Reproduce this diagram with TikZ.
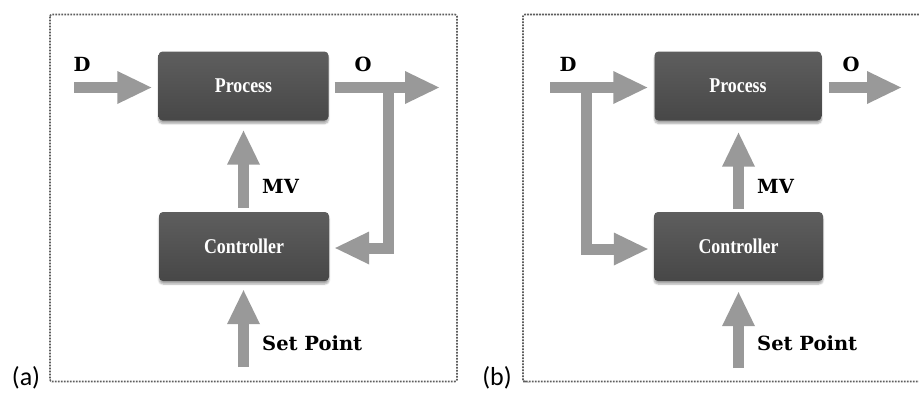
\documentclass[tikz,border=0pt]{standalone}
\usepackage{fontspec}
\usetikzlibrary{calc,shadows.blur}
\newfontfamily\labelfont{DejaVu Serif}
\newfontfamily\boxfont[FakeStretch=0.85]{Liberation Serif}
\newfontfamily\capfont{Carlito}
\definecolor{flowgray}{HTML}{999999}
\definecolor{boxtop}{HTML}{5E5E5E}
\definecolor{boxbottom}{HTML}{474747}
\definecolor{framegray}{HTML}{5E5E5E}
\tikzset{
  block/.style={rectangle, rounded corners=4pt, minimum width=170pt, minimum height=69pt,
    top color=boxtop, bottom color=boxbottom, draw=none,
    blur shadow={shadow xshift=0pt, shadow yshift=-3pt, shadow blur steps=6, shadow opacity=35},
    text=white, font=\boxfont\bfseries\fontsize{21}{23}\selectfont, inner sep=0pt},
  flow/.style={draw=flowgray, line width=11pt, line join=miter, line cap=butt},
  % wide triangular head, tip at the pic origin, pointing along +x
  head/.pic={\fill[flowgray] (0,0) -- (-34,-16.5) -- (-34,16.5) -- cycle;},
  sig/.style={font=\labelfont\bfseries\fontsize{19.5}{22}\selectfont, text=black, inner sep=0pt},
  frame/.style={draw=framegray, line width=1.6pt, dash pattern=on 1.8pt off 1.2pt},
  caption/.style={font=\capfont\fontsize{26}{28}\selectfont, inner sep=0pt},
}
\begin{document}
\begin{tikzpicture}[x=1pt, y=-1pt]
  \useasboundingbox (0,0) rectangle (919,392);

  % ---------- (a) feedback loop ----------
  \draw[frame, rounded corners=2pt] (50,14.5) rectangle (457,381.5);
  \node[caption] (capa) at (26,378) {(a)};

  \node[block] (proca) at (243.5,86) {Process};
  \node[block] (ctrla) at (244,246.5) {Controller};

  \coordinate (ina)  at (74,87.5);
  \coordinate (outa) at (439,87.5);
  \coordinate (taba) at (388.5,87.5);
  \coordinate (cora) at (388.5,248);
  \coordinate (spa)  at (243.5,367);
  \coordinate (tipDa)  at ($(proca.west |- ina)+(-7,0)$);
  \coordinate (tipFa)  at ($(ctrla.east |- cora)+(6,0)$);
  \coordinate (tipMVa) at ($(proca.south -| spa)+(0,10)$);
  \coordinate (tipSPa) at ($(ctrla.south -| spa)+(0,9)$);

  % input D
  \draw[flow] (ina) -- ($(tipDa)+(-33,0)$);
  \pic at (tipDa) {head};
  % output O
  \draw[flow] ($(proca.east |- outa)+(6,0)$) -- ($(outa)+(-33,0)$);
  \pic at (outa) {head};
  % feedback from O to the controller
  \draw[flow] (taba) -- (cora) -- ($(tipFa)+(33,0)$);
  \pic[rotate=180] at (tipFa) {head};
  % manipulated variable
  \draw[flow] ($(ctrla.north -| spa)+(0,-4)$) -- ($(tipMVa)+(0,33)$);
  \pic[rotate=90] at (tipMVa) {head};
  % set point
  \draw[flow] (spa) -- ($(tipSPa)+(0,33)$);
  \pic[rotate=90] at (tipSPa) {head};

  \node[sig] (da)  at (82,64)  {D};
  \node[sig] (oa)  at (363,64) {O};
  \node[sig, anchor=west] (mva) at (262,186) {MV};
  \node[sig, anchor=west] (setpa) at (262,343) {Set Point};

  % ---------- (b) feedforward ----------
  \draw[frame] (919,14.5) -- (525,14.5) [rounded corners=2pt] -- (523,14.5) -- (523,381.5) -- (525,381.5) [sharp corners] -- (919,381.5);
  \node[caption] (capb) at (497,378) {(b)};

  \node[block, minimum width=167pt] (procb) at (738,86) {Process};
  \node[block, minimum width=169pt] (ctrlb) at (738.5,246.5) {Controller};

  \coordinate (inb)  at (550,87.5);
  \coordinate (outb) at (901,87.5);
  \coordinate (tabb) at (586.5,87.5);
  \coordinate (corb) at (586.5,249);
  \coordinate (spb)  at (738.5,368);
  \coordinate (tipDb)  at ($(procb.west |- inb)+(-7,0)$);
  \coordinate (tipFb)  at ($(ctrlb.west |- corb)+(-6,0)$);
  \coordinate (tipMVb) at ($(procb.south -| spb)+(0,12)$);
  \coordinate (tipSPb) at ($(ctrlb.south -| spb)+(0,11)$);

  % input D
  \draw[flow] (inb) -- ($(tipDb)+(-33,0)$);
  \pic at (tipDb) {head};
  % output O
  \draw[flow] ($(procb.east |- outb)+(7,0)$) -- ($(outb)+(-33,0)$);
  \pic at (outb) {head};
  % feedforward from D to the controller
  \draw[flow] (tabb) -- (corb) -- ($(tipFb)+(-33,0)$);
  \pic at (tipFb) {head};
  % manipulated variable
  \draw[flow] ($(ctrlb.north -| spb)+(0,-3)$) -- ($(tipMVb)+(0,33)$);
  \pic[rotate=90] at (tipMVb) {head};
  % set point
  \draw[flow] (spb) -- ($(tipSPb)+(0,33)$);
  \pic[rotate=90] at (tipSPb) {head};

  \node[sig] (db)  at (568,64) {D};
  \node[sig] (ob)  at (851,64) {O};
  \node[sig, anchor=west] (mvb) at (757,186) {MV};
  \node[sig, anchor=west] (setpb) at (757,343) {Set Point};
\end{tikzpicture}
\end{document}
